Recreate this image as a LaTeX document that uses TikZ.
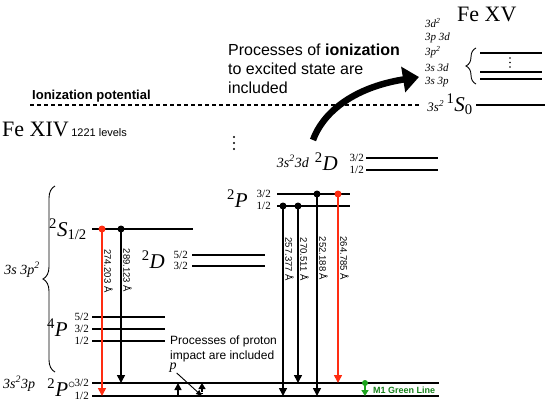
\documentclass[tikz,border=0pt]{standalone}
\usepackage{fontspec}
\setmainfont{Liberation Serif}
\setsansfont{Liberation Sans}
\usetikzlibrary{arrows.meta,decorations.pathreplacing}
\definecolor{LineRed}{HTML}{FF2D12}
\definecolor{GreenLine}{HTML}{1DA31D}
\definecolor{GreenText}{HTML}{16801A}
\newcommand{\fsz}[1]{\fontsize{#1}{#1}\selectfont}

\begin{document}
\begin{tikzpicture}[x=1pt,y=-1pt,
  level/.style={line width=2.6pt},
  trans/.style={line width=1.6pt,-{Triangle[length=8pt,width=8pt]}},
  wl/.style={rotate=-90,anchor=south,inner sep=1.5pt,text=black,font=\sffamily\fsz{9.5}},
  frac/.style={anchor=east,inner sep=0pt,font=\fsz{11}},
  term/.style={anchor=base east,inner sep=0pt,font=\fsz{21}},
  conf/.style={anchor=base east,inner sep=0pt,font=\itshape\fsz{14}},
  cfgxv/.style={anchor=west,inner sep=0pt,font=\itshape\fsz{11}},
  dot/.style={circle,fill,inner sep=0pt,minimum size=7pt}]
\useasboundingbox (0,0) rectangle (550,407);

% Fe XV
\node[anchor=base west,inner sep=0pt,font=\fsz{22}] (fexv) at (457,21) {Fe XV};
\foreach \y/\t [count=\i] in {23/3d\textsuperscript{2},38/3p 3d,52/3p\textsuperscript{2},68/3s 3d,82/3s 3p}
  \node[cfgxv] (c\i) at (425,\y) {\t};
\draw[decorate,decoration={brace,amplitude=10pt},line width=0.9pt] (476,84) -- (476,48);
\foreach \y in {53,72,79} \draw[level] (480,\y) -- (542,\y);
\foreach \y in {58,62.5,67} \fill (510,\y) circle (0.8pt);
\draw[level] (476,105) -- (545,105);
\node[anchor=base east,inner sep=0pt] (gxv) at (473,111) {{\itshape\fsz{13}3s\textsuperscript{2}}\ {\fsz{21}\textsuperscript{1}\textit{S}\textsubscript{0}}};

% ionization limit
\coordinate (ipL) at (30,105);
\coordinate (ipR) at (421,105);
\draw[line width=1.1pt,dash pattern=on 4pt off 3pt] (ipL) -- (ipR);
\node[anchor=base west,inner sep=0pt,font=\sffamily\bfseries\fsz{13}] (ip) at (32,99) {Ionization potential};
\node[anchor=north west,inner sep=0pt,align=left,font=\sffamily\fontsize{16}{19}\selectfont] (ion) at (228,44)
  {Processes of \textbf{ionization}\\to excited state are\\included};
\coordinate (ionA) at (313,140);
\coordinate (ionB) at (419,77);
\draw[line width=6.5pt,-{Triangle[length=16pt,width=25pt]}] (ionA) .. controls (322,115) and (350,88) .. (ionB);

% Fe XIV
\node[anchor=base west,inner sep=0pt] (fexiv) at (2,136) {{\fsz{22}Fe XIV} {\sffamily\fsz{11}1221 levels}};
\foreach \y in {137,143,149} \fill (234,\y) circle (1.1pt);

% 3s 3p^2
\draw[level] (92,229) -- (193,229);
\draw[level] (192,255) -- (265,255);
\draw[level] (192,266) -- (265,266);
\foreach \y in {317,329,341} \draw[level] (92,\y) -- (165,\y);
\node[term] (tS) at (87,236) {\textsuperscript{2}\textit{S}\textsubscript{1/2}};
\node[term] (tD) at (165,268) {\textsuperscript{2}\textit{D}};
\node[frac] (fD1) at (188,255) {5/2};
\node[frac] (fD2) at (188,266) {3/2};
\node[term] (tQ) at (68,336) {\textsuperscript{4}\textit{P}};
\node[frac] (fQ1) at (89,317) {5/2};
\node[frac] (fQ2) at (89,329) {3/2};
\node[frac] (fQ3) at (89,341) {1/2};
\node[conf] (cSP) at (40,274) {3s 3p\textsuperscript{2}};
\draw[decorate,decoration={brace,amplitude=12pt},line width=0.9pt] (55,372) -- (55,186);

% ground
\draw[level] (92,383) -- (439,383);
\draw[level] (92,396) -- (439,396);
\node[conf,anchor=base west] (cG) at (3,388) {3s\textsuperscript{2}3p};
\node[term] (tG) at (76,396) {\textsuperscript{2}\textit{P}\textsuperscript{$\circ$}};
\node[frac] (fG1) at (89,383) {3/2};
\node[frac] (fG2) at (89,396) {1/2};

% 3s^2 3d
\draw[level] (277,194) -- (350,194);
\draw[level] (277,206) -- (350,206);
\draw[level] (366,158) -- (438,158);
\draw[level] (366,170) -- (438,170);
\node[term] (tP) at (248,207) {\textsuperscript{2}\textit{P}};
\node[frac] (fP1) at (271,194) {3/2};
\node[frac] (fP2) at (271,206) {1/2};
\node[conf] (cD) at (309,167) {3s\textsuperscript{2}3d};
\node[term] (tD3) at (338,170) {\textsuperscript{2}\textit{D}};
\node[frac] (fE1) at (364,158) {3/2};
\node[frac] (fE2) at (364,170) {1/2};

% transitions
\node[dot,LineRed] (sA) at (102,229) {};
\node[dot] (sB) at (121,229) {};
\node[dot] (pA) at (283,206) {};
\node[dot] (pB) at (298,206) {};
\node[dot] (pC) at (317,194) {};
\node[dot,LineRed] (pD) at (338,194) {};
\coordinate (gA) at (102,396);
\coordinate (gB) at (121,383);
\coordinate (gC) at (283,396);
\coordinate (gD) at (298,383);
\coordinate (gE) at (317,396);
\coordinate (gF) at (338,383);
\draw[trans,LineRed] (sA.center) -- (gA) node[wl,pos=.25] {274.203 Å};
\draw[trans] (sB.center) -- (gB) node[wl,pos=.27] {289.123 Å};
\draw[trans] (pA.center) -- (gC) node[wl,pos=.28] {257.377 Å};
\draw[trans] (pB.center) -- (gD) node[wl,pos=.30] {270.511 Å};
\draw[trans] (pC.center) -- (gE) node[wl,pos=.32] {252.188 Å};
\draw[trans,LineRed] (pD.center) -- (gF) node[wl,pos=.34] {264.785 Å};

% M1 line
\node[dot,GreenLine,minimum size=6pt] (mA) at (365,383) {};
\coordinate (mB) at (365,396);
\draw[trans,GreenLine,-{Triangle[length=6pt,width=7pt]}] (mA.center) -- (mB);
\node[anchor=west,inner sep=0pt,font=\sffamily\bfseries\fsz{9},text=GreenText] (m1) at (373,390) {M1 Green Line};

% proton impact
\node[anchor=north west,inner sep=0pt,align=left,font=\sffamily\fontsize{12}{14.5}\selectfont] (prt) at (170,336)
  {Processes of proton\\impact are included};
\node[inner sep=0pt,font=\itshape\fsz{14}] (pp) at (173,368) {p};
\coordinate (pt) at (202,396);
\draw[line width=0.9pt,-{Triangle[length=6pt,width=5pt]}] (pp.south east) -- (pt);
\coordinate (uA) at (178,396);
\coordinate (uA1) at (178,383);
\draw[trans,-{Triangle[length=7pt,width=7pt]}] (uA) -- (uA1);
\coordinate (uB) at (202,396);
\coordinate (uB1) at (202,383);
\draw[line width=1.2pt,densely dotted,-{Triangle[length=6pt,width=7pt]}] (uB) -- (uB1);
\end{tikzpicture}
\end{document}
